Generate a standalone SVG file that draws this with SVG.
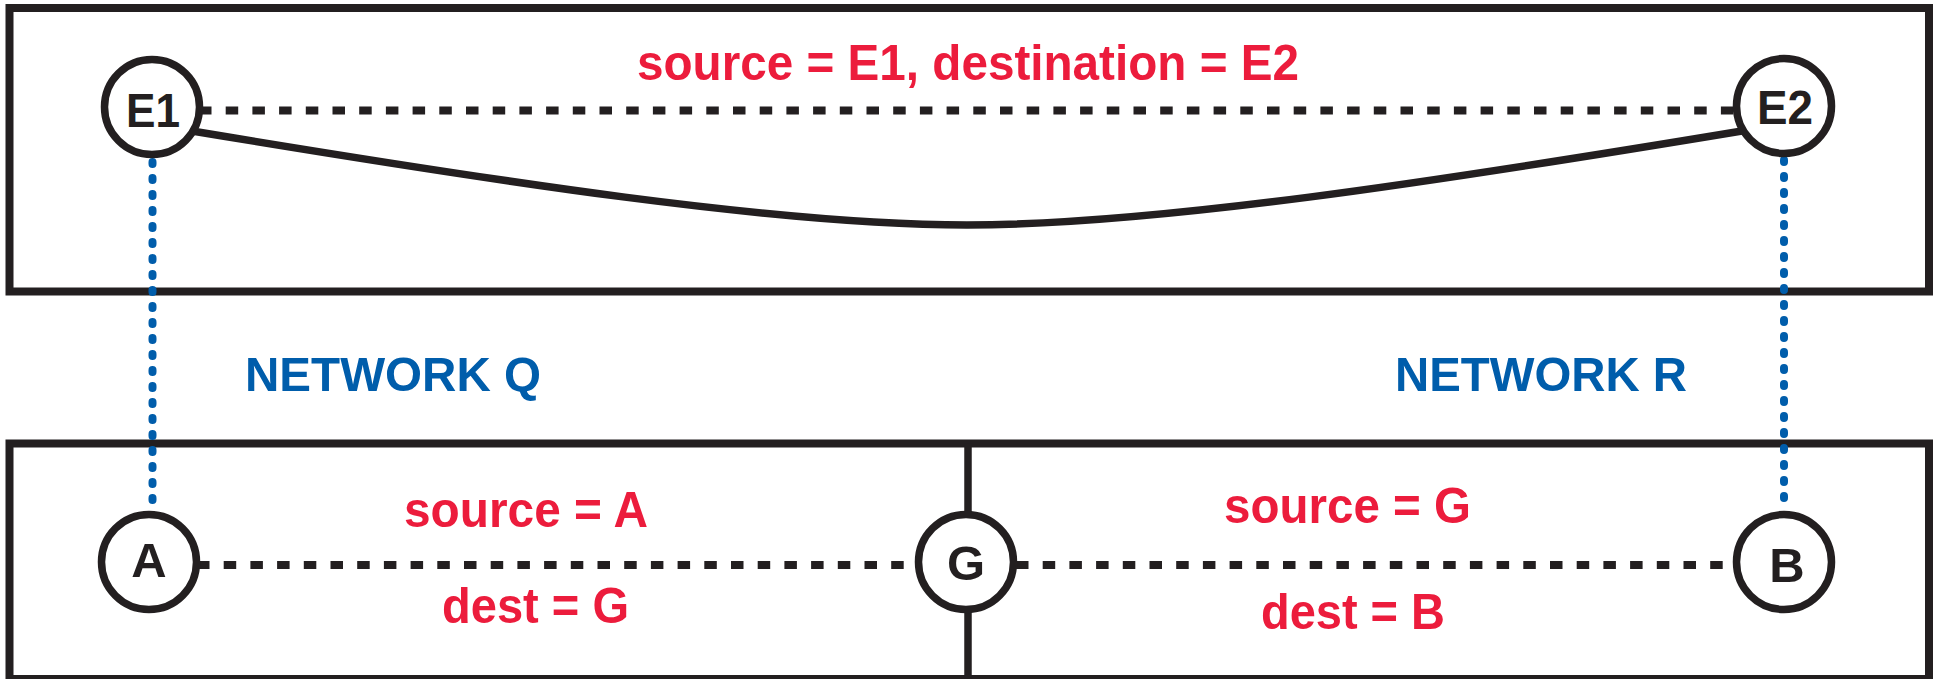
<svg xmlns="http://www.w3.org/2000/svg" width="1937" height="679" viewBox="0 0 1937 679">
  <style>
    .frame { fill: none; stroke: #231f20; stroke-width: 8; }
    .divider { fill: none; stroke: #231f20; stroke-width: 7.5; }
    .link { fill: none; stroke: #231f20; stroke-width: 8; stroke-dasharray: 12.5 14.2; }
    .route { fill: none; stroke: #231f20; stroke-width: 7.5; }
    .tunnel { fill: none; stroke: #005dab; stroke-width: 8; stroke-linecap: round; stroke-dasharray: 2 14; }
    .node circle { fill: #ffffff; stroke: #231f20; stroke-width: 7.5; }
    .node text { font-family: "Liberation Sans", Arial, sans-serif; font-weight: bold; font-size: 49px; fill: #231f20; text-anchor: middle; }
    .hdr { font-family: "Liberation Sans", Arial, sans-serif; font-weight: bold; font-size: 50px; fill: #ec1c3c; text-anchor: middle; }
    .net { font-family: "Liberation Sans", Arial, sans-serif; font-weight: bold; font-size: 49px; fill: #005dab; text-anchor: middle; }
  </style>

  <!-- frames -->
  <rect class="frame" x="9.5" y="8" width="1919.5" height="283.5"/>
  <rect class="frame" x="9.5" y="443.5" width="1919.5" height="235.5"/>
  <line class="divider" x1="968" y1="443.5" x2="968" y2="679"/>

  <!-- connectors -->
  <g id="connectors">
    <line class="link" x1="199" y1="110.5" x2="1736" y2="110.5"/>
    <path class="route" d="M192,131 C500,182 780,225 967,225 C1154,225 1434,182 1742,131"/>
    <line class="tunnel" x1="152.5" y1="162" x2="152.5" y2="508"/>
    <line class="tunnel" x1="1784" y1="160" x2="1784" y2="508"/>
    <line class="link" x1="197" y1="565" x2="918" y2="565"/>
    <line class="link" x1="1016" y1="565" x2="1736" y2="565"/>
  </g>

  <!-- nodes -->
  <g id="node-E1" class="node">
    <circle cx="152" cy="107" r="47.5"/>
    <text x="153" y="127" textLength="54" lengthAdjust="spacingAndGlyphs">E1</text>
  </g>
  <g id="node-E2" class="node">
    <circle cx="1784" cy="106" r="47.5"/>
    <text x="1785" y="124" textLength="56" lengthAdjust="spacingAndGlyphs">E2</text>
  </g>
  <g id="node-A" class="node">
    <circle cx="149" cy="562" r="47.5"/>
    <text x="149" y="577">A</text>
  </g>
  <g id="node-G" class="node">
    <circle cx="966" cy="562" r="47.5"/>
    <text x="966" y="580">G</text>
  </g>
  <g id="node-B" class="node">
    <circle cx="1784" cy="562" r="47.5"/>
    <text x="1787" y="582">B</text>
  </g>

  <!-- labels -->
  <text class="hdr" x="968" y="80" textLength="662" lengthAdjust="spacingAndGlyphs">source = E1, destination = E2</text>
  <text class="hdr" x="526" y="527" textLength="244" lengthAdjust="spacingAndGlyphs">source = A</text>
  <text class="hdr" x="535.5" y="623" textLength="187" lengthAdjust="spacingAndGlyphs">dest = G</text>
  <text class="hdr" x="1347.5" y="523" textLength="247" lengthAdjust="spacingAndGlyphs">source = G</text>
  <text class="hdr" x="1353" y="629" textLength="184" lengthAdjust="spacingAndGlyphs">dest = B</text>
  <text class="net" x="393" y="391" textLength="296" lengthAdjust="spacingAndGlyphs">NETWORK Q</text>
  <text class="net" x="1541" y="391" textLength="292" lengthAdjust="spacingAndGlyphs">NETWORK R</text>
</svg>
